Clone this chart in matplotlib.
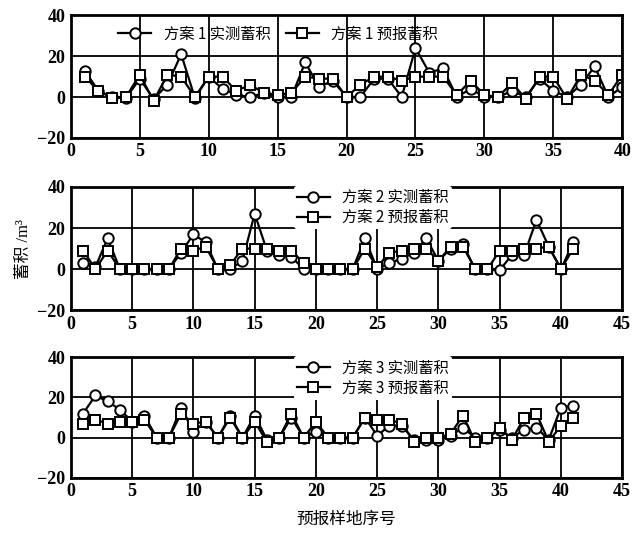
import numpy as np
import matplotlib
matplotlib.use("Agg")
import matplotlib.pyplot as plt

plt.rcParams['font.family'] = ['Liberation Serif', 'Noto Sans CJK SC', 'DejaVu Sans']

# plan 1 (sample plots 1-40)
x1 = list(range(1, 41))
meas1 = [13, 3, 0, -0.5, 9, -1, 6, 21, -0.5, 10,
         4, 1, 0, 2, 0, 0, 17, 5, 8, 0,
         0, 9, 9, 0, 24, 12, 14, 0, 4, 0,
         0, 3, 0, 9, 3, 0, 6, 15, 0, 5]
pred1 = [10, 3, -0.5, 0, 11, -2, 11, 10, 0, 10,
         10, 3, 6, 2, 1, 2, 10, 9, 9, 0,
         6, 10, 10, 8, 10, 10, 10, 1, 8, 1,
         0, 7, -1, 10, 10, -1, 11, 8, 1, 11]

# plan 2 (sample plots 1-41)
x2 = list(range(1, 42))
meas2 = [3, 1, 15, 0, 0, 0, 0, 0, 8, 17,
         13, 0, 0, 4, 27, 9, 7, 6, 0, 0,
         0, 0, 0, 15, 0, 3, 5, 8, 15, 4,
         10, 12, 0, 0, -0.5, 7, 7, 24, 11, 0, 13]
pred2 = [9, 0, 9, 0, 0, 0, 0, 0, 10, 9,
         11, 0, 2, 10, 10, 10, 9, 9, 3, 0,
         0, 0, 0, 10, 1, 8, 9, 10, 10, 4,
         11, 11, 0, 0, 9, 9, 10, 10, 11, 0, 10]

# plan 3 (sample plots 1-41)
x3 = list(range(1, 42))
meas3 = [12, 21, 18, 14, 8, 11, 0, 0, 15, 3,
         8, 0, 11, 0, 11, -1, 0, 10, 0, 3,
         0, 0, 0, 10, 1, 6, 6, -1, -1, -1,
         1, 5, 0, 0, 4, 0, 4, 5, -1, 15, 16]
pred3 = [7, 9, 7, 8, 8, 9, 0, 0, 12, 7,
         8, 0, 10, 0, 8, -2, 0, 12, 0, 8,
         0, 0, 0, 10, 9, 9, 7, -2, 0, 0,
         2, 11, -2, 0, 5, -1, 10, 12, -2, 6, 10]

panels = [
    (x1, meas1, pred1, 40, '1'),
    (x2, meas2, pred2, 45, '2'),
    (x3, meas3, pred3, 45, '3'),
]

fig = plt.figure(figsize=(6.33, 5.34), dpi=100)
rects = [[0.112, 0.742, 0.871, 0.229],
         [0.112, 0.419, 0.871, 0.231],
         [0.112, 0.105, 0.871, 0.226]]

axes = []
for rect, (x, m, p, xmax, k) in zip(rects, panels):
    ax = fig.add_axes(rect)
    ax.plot(x, m, '-o', color='black', lw=1.6, ms=7.5, mfc='white', mew=1.4,
            label='方案 ' + k + ' 实测蓄积')
    ax.plot(x, p, '-s', color='black', lw=1.6, ms=7.5, mfc='white', mew=1.4,
            label='方案 ' + k + ' 预报蓄积')
    ax.set_xlim(0, xmax)
    ax.set_ylim(-20, 40)
    ax.set_xticks(np.arange(0, xmax + 1, 5))
    ax.set_yticks([-20, 0, 20, 40])
    ax.grid(True, color='black', lw=1.3)
    ax.tick_params(length=0, labelsize=13, pad=4)
    for lab in ax.get_xticklabels() + ax.get_yticklabels():
        lab.set_fontweight('bold')
    for s in ax.spines.values():
        s.set_linewidth(2)
    axes.append(ax)

leg_font = {'family': ['Noto Sans CJK SC'], 'size': 11}
axes[0].legend(loc='upper left', bbox_to_anchor=(0.06, 1.03), ncol=2, frameon=False,
               prop=leg_font, handlelength=2.2, columnspacing=1.0)
for ax in axes[1:]:
    lg = ax.legend(loc='upper left', bbox_to_anchor=(0.39, 1.07), ncol=1, frameon=True,
                   prop=leg_font, handlelength=2.2, labelspacing=0.2, borderpad=0.2)
    lg.get_frame().set_edgecolor('none')
    lg.get_frame().set_facecolor('white')
    lg.get_frame().set_alpha(1)

axes[1].set_ylabel('蓄积 /m³', fontsize=12, labelpad=4)
axes[2].set_xlabel('预报样地序号', fontsize=12, labelpad=8)

fig.savefig('out.png', dpi=100)
